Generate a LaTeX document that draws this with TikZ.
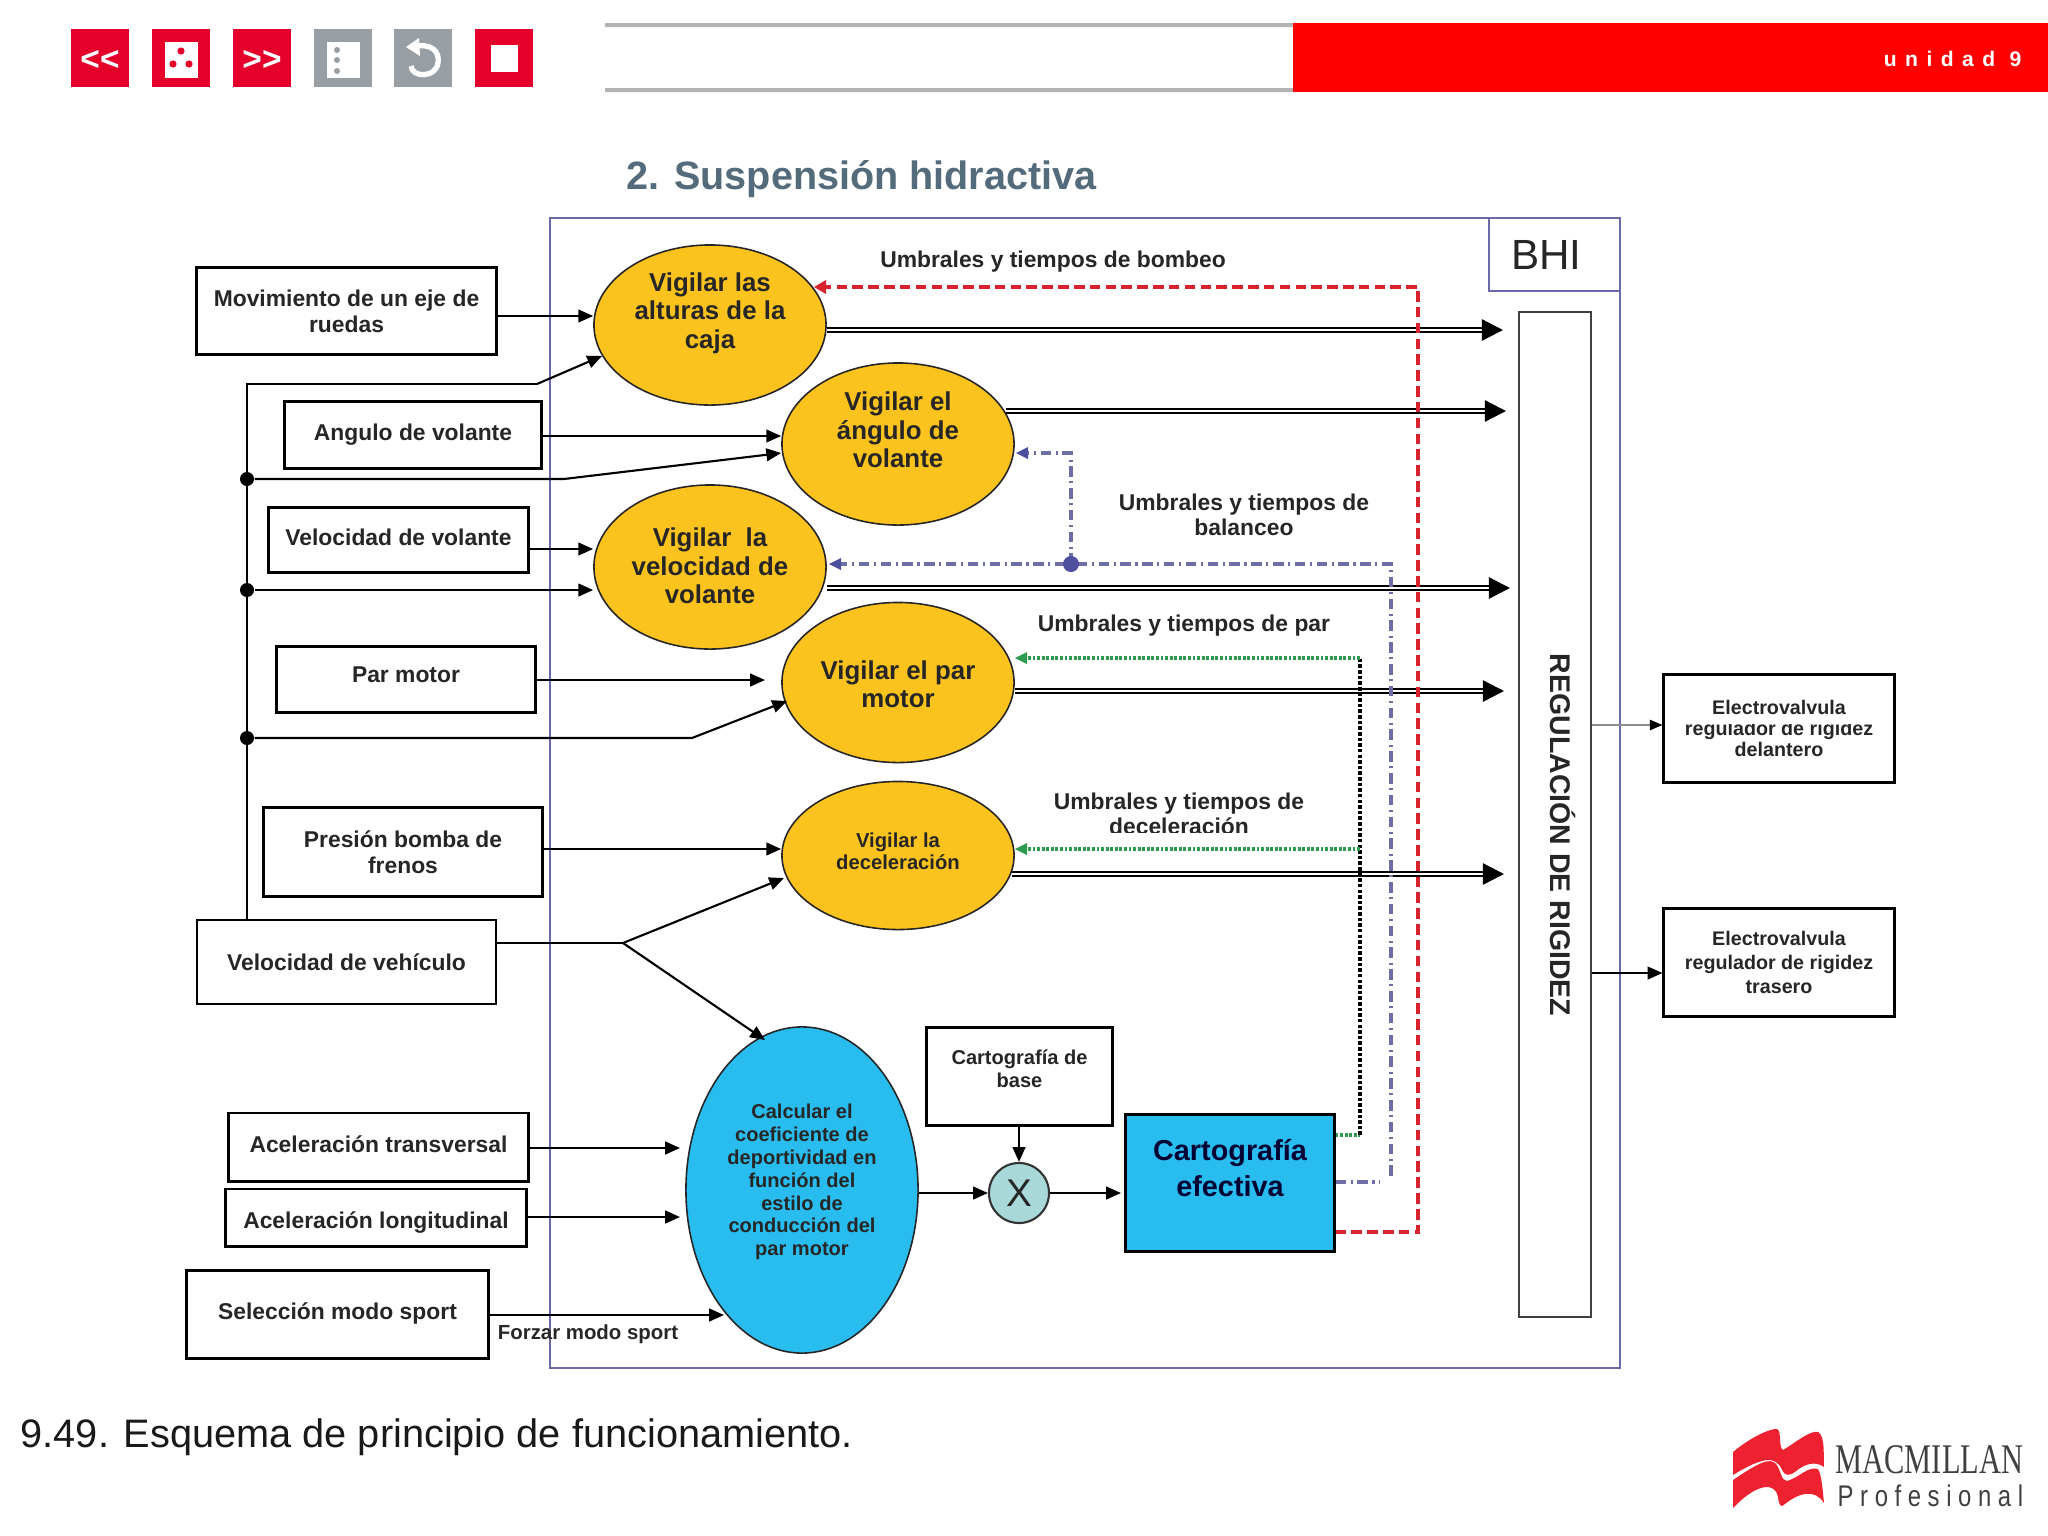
\documentclass[tikz,border=0pt]{standalone}
\usepackage{fontspec}
\usetikzlibrary{shapes.geometric,arrows.meta,calc}
\setmainfont{Liberation Sans}
\newfontfamily\spacedfont[LetterSpace=40]{Liberation Sans}
\newfontfamily\macfont[FakeStretch=0.72]{Liberation Serif}
\newfontfamily\proffont[LetterSpace=22,FakeStretch=0.8]{Liberation Sans}
\definecolor{btnred}{HTML}{E4002B}
\definecolor{btngray}{HTML}{989FA4}
\definecolor{barred}{HTML}{FF0000}
\definecolor{bargray}{HTML}{B3B3B3}
\definecolor{titlecol}{HTML}{536B7A}
\definecolor{yel}{HTML}{FCC31E}
\definecolor{blu}{HTML}{29BDEF}
\definecolor{frame}{HTML}{6A6AA8}
\definecolor{dred}{HTML}{D8232F}
\definecolor{dblue}{HTML}{4F4FA0}
\definecolor{dgreen}{HTML}{2E9A50}
\definecolor{xfill}{HTML}{A9D8D8}
\definecolor{logored}{HTML}{EE2130}
\definecolor{bluedash}{HTML}{6E6EA6}
\newcommand{\pxfont}[2]{\fontsize{#1}{#2}\selectfont}
\tikzset{
 x=0.01cm,y=-0.01cm,
 inbox/.style={draw=black,line width=0.85pt,fill=white,inner sep=0pt,align=center,font=\bfseries\pxfont{6.5pt}{7.3pt},text=black!85},
 oval/.style={ellipse,draw=black!85,line width=0.45pt,fill=yel,inner sep=0pt},
 ovaltext/.style={inner sep=0pt,align=center,font=\bfseries\pxfont{7.35pt}{8.1pt},text=black!85},
 note/.style={inner sep=0pt,align=center,font=\bfseries\pxfont{6.5pt}{7.1pt},text=black!85},
 btn/.style={rectangle,inner sep=0pt,minimum width=5.74mm,minimum height=5.8mm},
 conn/.style={line width=0.6pt,-{Triangle[length=4.2pt,width=3.6pt]}},
 plain/.style={line width=0.6pt},
 dbl/.style={line width=0.65pt,double=white,double distance=0.45pt,-{Triangle[length=6pt,width=6pt]}},
 jdot/.style={circle,fill=black,inner sep=0pt,minimum size=1.4mm},
 redd/.style={draw=dred,line width=1.1pt,dash pattern=on 3pt off 1.5pt},
 blued/.style={draw=bluedash,line width=0.9pt,dash pattern=on 3pt off 1.3pt on .6pt off 1.3pt},
 greend/.style={draw=dgreen,line width=1.1pt,dash pattern=on .8pt off .5pt},
 blackd/.style={draw=black,line width=1.05pt,dash pattern=on 1pt off .6pt},
}
\begin{document}
\begin{tikzpicture}
\useasboundingbox (0,0) rectangle (2048,1536);
% header buttons
\node[btn,fill=btnred] (b1) at (100,58) {};
\node[btn,fill=btnred] (b2) at (181,58) {};
\node[btn,fill=btnred] (b3) at (262,58) {};
\node[btn,fill=btngray] (b4) at (343,58) {};
\node[btn,fill=btngray] (b5) at (423,58) {};
\node[btn,fill=btnred] (b6) at (504,58) {};
\node[text=white,font=\bfseries\pxfont{9.5pt}{10pt},inner sep=0pt] (t1) at (100,60) {<{}<};
\node[text=white,font=\bfseries\pxfont{9.5pt}{10pt},inner sep=0pt] (t3) at (262,60) {>{}>};
\fill[white] (165,42) rectangle (198,78);
\fill[btnred] (181,51) circle (3.6) (173,64) circle (3.6) (189,64) circle (3.6);
\fill[white] (327,42) rectangle (360,78);
\fill[btngray] (337,50) circle (3) (337,60) circle (3) (337,71) circle (3);
\draw[white,line width=1.5pt] (412,47) .. controls (432,42) and (440,52) .. (438,63) .. controls (436,78) and (412,78) .. (411,66);
\fill[white] (406,47) -- (419,38) -- (420,56) -- cycle;
\fill[white] (491,45) rectangle (518,72);
% header bar
\fill[bargray] (605,23) rectangle (1293,27) (605,88) rectangle (1293,92);
\fill[barred] (1293,23) rectangle (2048,92);
\node[anchor=east,text=white,inner sep=0pt,font=\spacedfont\bfseries\pxfont{6pt}{7pt}] (unidad) at (2022,59) {unidad 9};
% title
\node[anchor=west,inner sep=0pt,text=titlecol,font=\bfseries\pxfont{11.25pt}{13pt}] (title) at (626,179) {2. Suspensión hidractiva};
% frame
\draw[frame,line width=0.5pt] (550,218) rectangle (1620,1368);
\node[draw=frame,line width=0.5pt,fill=white,minimum width=13.1mm,minimum height=7.3mm,inner sep=0pt,font=\pxfont{12pt}{12pt},text=black!85] (bhi) at (1554.5,254.5) {\hspace{-1.6mm}BHI};
\node[draw=black!75,line width=0.55pt,fill=white,minimum width=7.2mm,minimum height=100.5mm,inner sep=0pt] (reg) at (1555,814.5) {};
\node[rotate=-90,inner sep=0pt,font=\bfseries\pxfont{8.1pt}{8pt},text=black!85] (regt) at (1563,835) {REGULACIÓN DE RIGIDEZ};
% inputs
\node[inbox,minimum width=29.9mm,minimum height=8.7mm] (mov) at (346.5,311) {Movimiento de un eje de\\ruedas};
\node[inbox,minimum width=25.6mm,minimum height=6.6mm] (ang) at (413,435) {Angulo de volante};
\node[inbox,minimum width=25.9mm,minimum height=6.4mm] (vvo) at (398.5,540) {\raisebox{.6mm}{Velocidad de volante}};
\node[inbox,minimum width=25.8mm,minimum height=6.5mm] (par) at (406,679.5) {\raisebox{1mm}{Par motor}};
\node[inbox,minimum width=27.8mm,minimum height=8.8mm] (pre) at (403,852) {Presión bomba de\\frenos};
\node[inbox,line width=0.6pt,minimum width=29.9mm,minimum height=8.4mm] (vve) at (346.5,962) {Velocidad de vehículo};
\node[inbox,minimum width=29.9mm,minimum height=6.8mm] (atr) at (378.5,1147) {\raisebox{.6mm}{Aceleración transversal}};
\node[inbox,minimum width=30mm,minimum height=5.7mm,text height=2.6mm] (alo) at (376,1217.5) {Aceleración longitudinal};
\node[inbox,minimum width=30.1mm,minimum height=8.7mm] (sel) at (337.5,1314.5) {\raisebox{.6mm}{Selección modo sport}};
\node[inbox,font=\bfseries\pxfont{5.7pt}{6.7pt},minimum width=18.5mm,minimum height=9.7mm,text depth=1.6mm] (bas) at (1019.5,1076.5) {Cartografía de\\base};
\node[inbox,fill=blu,font=\bfseries\pxfont{8.2pt}{10.3pt},text=black!80!blue,minimum width=20.8mm,minimum height=13.6mm,text depth=3mm] (efe) at (1230,1183) {Cartografía\\efectiva};
\node[inbox,font=\bfseries\pxfont{5.6pt}{6pt},minimum width=23mm,minimum height=10.7mm] (ev1) at (1779,728.5) {Electrovalvula\\regulador de rigidez\\delantero};
\node[inbox,font=\bfseries\pxfont{5.6pt}{6.7pt},minimum width=23mm,minimum height=10.7mm] (ev2) at (1779,962.5) {Electrovalvula\\regulador de rigidez\\trasero};
\fill[white] (1680,716) rectangle (1880,724);
% ovals
\node[oval,minimum width=23.2mm,minimum height=16mm] (alt) at (710,325) {};
\node[ovaltext] (altT) at (710,313) {Vigilar las\\alturas de la\\caja};
\node[oval,minimum width=23.2mm,minimum height=16.2mm] (avo) at (898,444) {};
\node[ovaltext] (avoT) at (898,430) {Vigilar el\\ángulo de\\volante};
\node[oval,minimum width=23.2mm,minimum height=16.4mm] (vvl) at (710,567) {};
\node[ovaltext] (vvlT) at (710,566) {Vigilar\ \ la\\velocidad de\\volante};
\node[oval,minimum width=23.2mm,minimum height=16mm] (pmo) at (898,682.5) {};
\node[ovaltext] (pmoT) at (898,684) {Vigilar el par\\motor};
\node[oval,minimum width=23.2mm,minimum height=14.8mm] (dec) at (898,855.5) {};
\node[ovaltext,font=\bfseries\pxfont{5.75pt}{6.3pt}] (decT) at (898,851) {Vigilar la\\deceleración};
\node[oval,fill=blu,minimum width=23.2mm,minimum height=32.6mm] (cal) at (802,1190) {};
\node[ovaltext,font=\bfseries\pxfont{5.7pt}{6.5pt}] (calT) at (802,1182) {Calcular el\\coeficiente de\\deportividad en\\función del\\estilo de\\conducción del\\par motor};
\node[circle,draw=black!80,line width=0.6pt,fill=xfill,minimum size=6mm,inner sep=0pt,font=\pxfont{11pt}{12pt},text=black!85] (xx) at (1019,1193) {X};
% notes
\node[note] (n1) at (1053,262) {Umbrales y tiempos de bombeo};
\node[note] (n2) at (1244,515) {Umbrales y tiempos de\\balanceo};
\node[note] (n3) at (1184,626) {Umbrales y tiempos de par};
\node[note] (n4) at (1179,814) {Umbrales y tiempos de\\deceleración};
\fill[white] (1100,833) rectangle (1260,842);
\node[note,font=\bfseries\pxfont{5.8pt}{6pt}] (n5) at (588,1334) {Forzar modo sport};
\node[anchor=west,inner sep=0pt,font=\pxfont{11.3pt}{13pt},text=black!90] (cap) at (20,1437) {9.49. Esquema de principio de funcionamiento.};
% left bus
\coordinate (busT) at (247,384);
\coordinate (j1) at (247,479);
\coordinate (j2) at (247,590);
\coordinate (j3) at (247,738);
\draw[plain] (vve.north -| busT) -- (busT) -- (537,384);
\draw[conn] (537,384) -- (alt.196);
\node[jdot] (d1) at (j1) {};
\node[jdot] (d2) at (j2) {};
\node[jdot] (d3) at (j3) {};
\draw[conn] (d1) -- (564,479) -- (avo.west |- 0,453);
\draw[conn] (d2) -- (vvl.west |- 0,590);
\draw[conn] (d3) -- (692,738) -- (787,701);
% inputs to ovals
\draw[conn] (mov.east |- 0,316) -- (alt.west |- 0,316);
\draw[conn] (ang.east |- 0,436) -- (avo.west |- 0,436);
\draw[conn] (vvo.east |- 0,549) -- (vvl.west |- 0,549);
\draw[conn] (par.east |- 0,680) -- (765,680);
\draw[conn] (pre.east |- 0,849) -- (dec.west |- 0,849);
\coordinate (fork) at (623,943);
\draw[plain] (vve.east |- fork) -- (fork);
\draw[conn] (fork) -- (784,878);
\draw[conn] (fork) -- (765,1040);
\draw[conn] (atr.east |- 0,1148) -- (680,1148);
\draw[conn] (alo.east |- 0,1217) -- (680,1217);
\draw[conn] (sel.east |- 0,1315) -- (724,1315);
\draw[conn] (cal.east |- 0,1193) -- (xx.west);
\draw[conn] (xx.east) -- (1121,1193);
\draw[conn] (bas.south -| xx) -- (xx.north);
% outgoing double arrows
\draw[dbl] (alt.east |- 0,330) -- (1503,330);
\draw[dbl] (1006,411) -- (1506,411);
\draw[dbl] (vvl.east |- 0,588) -- (1510,588);
\draw[dbl] (pmo.east |- 0,691) -- (1504,691);
\draw[dbl] (1012,874) -- (1504,874);
% to valves
\draw[draw=black!45,line width=0.3pt] (reg.east |- 0,725) -- (1650,725);
\draw[-{Triangle[length=3.6pt,width=3pt]},line width=.3pt] (1650,725) -- (ev1.west |- 0,725);
\draw[conn] (reg.east |- 0,973) -- (ev2.west |- 0,973);
% feedback red
\draw[redd] (efe.east |- 0,1232) -- (1418,1232) -- (1418,287) -- (822,287);
\fill[dred] (814,287) -- (826,280) -- (826,294) -- cycle;
% feedback blue
\coordinate (bnode) at (1071,564);
\draw[blued] (efe.east |- 0,1182) -- (1380,1182);
\draw[blued] (1391,1176) -- (1391,564) -- (838,564);
\draw[blued] (bnode) -- (1071,453) -- (1024,453);
\fill[dblue] (bnode) circle (8);
\fill[dblue] (829,564) -- (841,558) -- (841,570) -- cycle;
\fill[dblue] (1016,453) -- (1028,447) -- (1028,459) -- cycle;
% feedback green/black
\draw[greend] (efe.east |- 0,1135) -- (1360,1135);
\draw[blackd] (1360,1135) -- (1360,658);
\draw[greend] (1360,658) -- (1024,658);
\draw[greend] (1360,849) -- (1024,849);
\fill[dgreen] (1015,658) -- (1027,652) -- (1027,664) -- cycle;
\fill[dgreen] (1015,849) -- (1027,843) -- (1027,855) -- cycle;
% logo
\fill[logored] (1733,1452) .. controls (1752,1436) and (1772,1428) .. (1777,1429)
 .. controls (1782,1431) and (1778,1447) .. (1783,1450)
 .. controls (1795,1443) and (1810,1430) .. (1818,1432)
 .. controls (1826,1436) and (1823,1460) .. (1824,1467)
 .. controls (1816,1461) and (1805,1463) .. (1795,1472)
 .. controls (1789,1476) and (1785,1476) .. (1782,1470)
 .. controls (1776,1456) and (1764,1456) .. (1733,1475) -- cycle;
\fill[logored] (1733,1480) .. controls (1758,1463) and (1770,1457) .. (1776,1464)
 .. controls (1781,1470) and (1781,1481) .. (1787,1481)
 .. controls (1800,1477) and (1808,1466) .. (1818,1469)
 .. controls (1822,1475) and (1823,1495) .. (1824,1503)
 .. controls (1815,1489) and (1800,1492) .. (1785,1504)
 .. controls (1781,1508) and (1779,1506) .. (1778,1497)
 .. controls (1776,1484) and (1760,1480) .. (1733,1508) -- cycle;
\node[anchor=west,inner sep=0pt,font=\macfont\pxfont{12pt}{13pt},text=black!75] (mac) at (1835,1460) {MACMILLAN};
\node[anchor=west,inner sep=0pt,font=\proffont\pxfont{8.5pt}{10pt},text=black!75] (pro) at (1837,1496) {Profesional};
\end{tikzpicture}
\end{document}
